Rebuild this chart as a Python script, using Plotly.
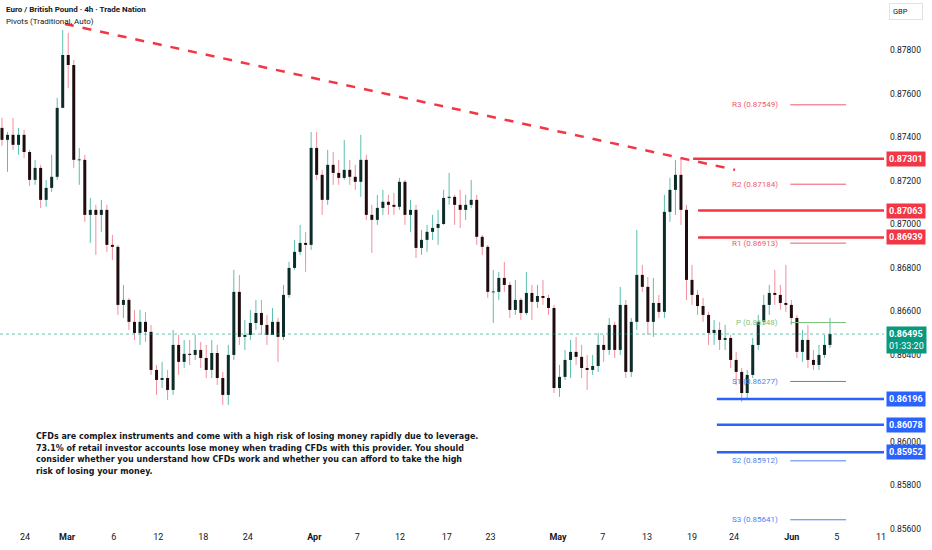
import plotly.graph_objects as go

# EUR/GBP candles (12h buckets), bar index on x
first_open = 0.87443
closes = [
    0.87388, 0.87411, 0.87365, 0.87411, 0.87332, 0.87204, 0.87259, 0.87112, 0.87167, 0.87218,
    0.87535, 0.87778, 0.87732, 0.87296, 0.87296, 0.87043, 0.87066, 0.87043, 0.87066, 0.86905,
    0.86896, 0.86629, 0.86652, 0.86551, 0.86500, 0.86551, 0.86505, 0.86330, 0.86284, 0.86293,
    0.86238, 0.86445, 0.86367, 0.86404, 0.86399, 0.86422, 0.86385, 0.86330, 0.86408, 0.86293,
    0.86215, 0.86399, 0.86689, 0.86482, 0.86491, 0.86546, 0.86592, 0.86537, 0.86491, 0.86551,
    0.86482, 0.86675, 0.86799, 0.86873, 0.86914, 0.86905, 0.87351, 0.87227, 0.87112, 0.87273,
    0.87236, 0.87213, 0.87250, 0.87218, 0.87195, 0.87296, 0.87043, 0.87020, 0.87075, 0.87103,
    0.87089, 0.87080, 0.87195, 0.87043, 0.87066, 0.86891, 0.86928, 0.86965, 0.86983, 0.87001,
    0.87121, 0.87126, 0.87089, 0.87066, 0.87089, 0.87112, 0.86942, 0.86896, 0.86689, 0.86689,
    0.86753, 0.86721, 0.86606, 0.86652, 0.86592, 0.86684, 0.86643, 0.86670, 0.86661, 0.86615,
    0.86247, 0.86298, 0.86376, 0.86413, 0.86390, 0.86339, 0.86330, 0.86348, 0.86445, 0.86422,
    0.86537, 0.86422, 0.86629, 0.86321, 0.86551, 0.86767, 0.86712, 0.86551, 0.86638, 0.86597,
    0.87057, 0.87158, 0.87227, 0.87066, 0.86744, 0.86675, 0.86624, 0.86583, 0.86500, 0.86514,
    0.86468, 0.86477, 0.86376, 0.86321, 0.86224, 0.86307, 0.86445, 0.86551, 0.86629, 0.86684,
    0.86675, 0.86638, 0.86629, 0.86569, 0.86413, 0.86468, 0.86376, 0.86353, 0.86399, 0.86445,
    0.86495,
]
highs = [
    0.87489, 0.87424, 0.87489, 0.87443, 0.87434, 0.87342, 0.87296, 0.87273, 0.87204, 0.87319,
    0.87581, 0.87893, 0.87880, 0.87755, 0.87351, 0.87319, 0.87121, 0.87089, 0.87112, 0.87089,
    0.86951, 0.86905, 0.86721, 0.86661, 0.86606, 0.86606, 0.86597, 0.86537, 0.86353, 0.86367,
    0.86330, 0.86514, 0.86491, 0.86468, 0.86468, 0.86491, 0.86459, 0.86445, 0.86468, 0.86445,
    0.86321, 0.86445, 0.86790, 0.86767, 0.86560, 0.86606, 0.86652, 0.86652, 0.86583, 0.86615,
    0.86569, 0.86721, 0.86827, 0.86928, 0.86997, 0.86965, 0.87424, 0.87424, 0.87250, 0.87342,
    0.87332, 0.87296, 0.87388, 0.87296, 0.87273, 0.87411, 0.87319, 0.87089, 0.87135, 0.87158,
    0.87135, 0.87144, 0.87213, 0.87204, 0.87112, 0.87089, 0.86974, 0.86997, 0.87043, 0.87066,
    0.87158, 0.87236, 0.87135, 0.87158, 0.87135, 0.87204, 0.87135, 0.86951, 0.86905, 0.86790,
    0.86781, 0.86827, 0.86735, 0.86744, 0.86661, 0.86781, 0.86721, 0.86721, 0.86744, 0.86675,
    0.86629, 0.86353, 0.86422, 0.86468, 0.86482, 0.86445, 0.86399, 0.86399, 0.86500, 0.86491,
    0.86569, 0.86551, 0.86712, 0.86652, 0.86569, 0.86974, 0.86813, 0.86758, 0.86753, 0.86675,
    0.87135, 0.87213, 0.87296, 0.87305, 0.87089, 0.86813, 0.86698, 0.86661, 0.86597, 0.86560,
    0.86551, 0.86537, 0.86491, 0.86413, 0.86339, 0.86330, 0.86477, 0.86583, 0.86675, 0.86721,
    0.86790, 0.86721, 0.86813, 0.86652, 0.86583, 0.86514, 0.86537, 0.86422, 0.86445, 0.86491,
    0.86569,
]
lows = [
    0.87360, 0.87241, 0.87342, 0.87319, 0.87305, 0.87176, 0.87181, 0.87075, 0.87080, 0.87149,
    0.87204, 0.87535, 0.87627, 0.87259, 0.87181, 0.87011, 0.86914, 0.86859, 0.86965, 0.86873,
    0.86836, 0.86583, 0.86569, 0.86514, 0.86468, 0.86445, 0.86459, 0.86307, 0.86215, 0.86247,
    0.86192, 0.86215, 0.86307, 0.86339, 0.86353, 0.86376, 0.86339, 0.86293, 0.86293, 0.86261,
    0.86169, 0.86169, 0.86376, 0.86445, 0.86422, 0.86468, 0.86514, 0.86491, 0.86445, 0.86491,
    0.86367, 0.86468, 0.86661, 0.86790, 0.86859, 0.86781, 0.86882, 0.87204, 0.87043, 0.87089,
    0.87181, 0.87181, 0.87204, 0.87181, 0.87158, 0.87126, 0.87020, 0.86868, 0.86997, 0.87043,
    0.87043, 0.87043, 0.87066, 0.86997, 0.86965, 0.86845, 0.86859, 0.86873, 0.86928, 0.86905,
    0.86997, 0.87089, 0.86997, 0.86983, 0.87020, 0.87075, 0.86905, 0.86859, 0.86661, 0.86546,
    0.86652, 0.86689, 0.86569, 0.86583, 0.86560, 0.86583, 0.86560, 0.86615, 0.86629, 0.86583,
    0.86224, 0.86206, 0.86284, 0.86293, 0.86353, 0.86293, 0.86238, 0.86307, 0.86321, 0.86367,
    0.86399, 0.86385, 0.86399, 0.86293, 0.86298, 0.86514, 0.86689, 0.86491, 0.86482, 0.86569,
    0.86569, 0.87011, 0.87043, 0.86997, 0.86652, 0.86629, 0.86583, 0.86551, 0.86445, 0.86445,
    0.86422, 0.86422, 0.86339, 0.86261, 0.86183, 0.86197, 0.86293, 0.86422, 0.86537, 0.86583,
    0.86629, 0.86606, 0.86597, 0.86537, 0.86385, 0.86367, 0.86339, 0.86330, 0.86330, 0.86385,
    0.86431,
]

# x-axis labels (bar index positions)
tick_pos = [4.17, 11.78, 20.24, 28.32, 36.47, 44.51, 56.58, 64.37, 72.10, 80.56,
            88.50, 100.72, 108.82, 116.85, 125.0, 132.61, 143.06, 151.21, 159.24]
tick_text = ["24", "<b>Mar</b>", "6", "12", "18", "24", "<b>Apr</b>", "7", "12", "17",
             "23", "<b>May</b>", "7", "13", "19", "24", "<b>Jun</b>", "5", "11"]
price_ticks = [0.856, 0.858, 0.860, 0.862, 0.864, 0.866, 0.868, 0.870, 0.872,
               0.874, 0.876, 0.878]

# drawn levels
red_levels = [0.87301, 0.87063, 0.86939]
red_start = [125.2, 126.1, 126.1]
blue_levels = [0.86196, 0.86078, 0.85952]
blue_start = [129.5, 129.5, 129.5]
trend_x = [11.4, 132.8]
trend_y = [0.87921, 0.87250]

# pivots (traditional)
pivot_names = ["R3", "R2", "R1", "P", "S1", "S2", "S3"]
pivot_vals = [0.87549, 0.87184, 0.86913, 0.86548, 0.86277, 0.85912, 0.85641]
pivot_cols = ["#f05a6e", "#f05a6e", "#f05a6e", "#7cc47f", "#4f7ff0", "#4f7ff0", "#4f7ff0"]

disclaimer = [
    "CFDs are complex instruments and come with a high risk of losing money rapidly due to leverage.",
    "73.1% of retail investor accounts lose money when trading CFDs with this provider. You should",
    "consider whether you understand how CFDs work and whether you can afford to take the high",
    "risk of losing your money.",
]
last_price = closes[-1]
countdown = "01:33:20"

X_MAX = 159.78
X_MIN = -0.36
Y_MIN, Y_MAX = 0.85594, 0.88031

opens = [first_open] + closes[:-1]

# build wick / body segments (None-separated)
wick = {True: ([], []), False: ([], [])}
body = {True: ([], []), False: ([], [])}
for i, (o, h, l, c) in enumerate(zip(opens, highs, lows, closes)):
    up = c >= o
    wick[up][0].extend([i, i, None])
    wick[up][1].extend([l, h, None])
    lo_b, hi_b = min(o, c), max(o, c)
    if hi_b - lo_b < 0.00004:
        mid = (hi_b + lo_b) / 2
        lo_b, hi_b = mid - 0.00002, mid + 0.00002
    body[up][0].extend([i, i, None])
    body[up][1].extend([lo_b, hi_b, None])

fig = go.Figure()

for up, col in [(True, "#5cbfae"), (False, "#f28f9c")]:
    fig.add_trace(go.Scatter(x=wick[up][0], y=wick[up][1], mode="lines",
                             line=dict(color=col, width=1),
                             hoverinfo="skip", showlegend=False))
for up, col in [(True, "#0d2b27"), (False, "#1e0c0f")]:
    fig.add_trace(go.Scatter(x=body[up][0], y=body[up][1], mode="lines",
                             line=dict(color=col, width=3),
                             hoverinfo="skip", showlegend=False))

# trendline
fig.add_trace(go.Scatter(x=trend_x, y=trend_y, mode="lines",
                         line=dict(color="#f23645", width=2.5, dash="dash"),
                         hoverinfo="skip", showlegend=False))

for lv, st in zip(red_levels, red_start):
    fig.add_trace(go.Scatter(x=[st, X_MAX], y=[lv, lv], mode="lines",
                             line=dict(color="#f23645", width=2.5),
                             hoverinfo="skip", showlegend=False))
    fig.add_annotation(x=1, xref="paper", y=lv, yref="y", text="<b>%.5f</b>" % lv,
                       showarrow=False, xanchor="left", xshift=2,
                       font=dict(family="Roboto", size=9, color="white"),
                       bgcolor="#f23645", borderpad=2)

for lv, st in zip(blue_levels, blue_start):
    fig.add_trace(go.Scatter(x=[st, X_MAX], y=[lv, lv], mode="lines",
                             line=dict(color="#2962ff", width=2.5),
                             hoverinfo="skip", showlegend=False))
    fig.add_annotation(x=1, xref="paper", y=lv, yref="y", text="<b>%.5f</b>" % lv,
                       showarrow=False, xanchor="left", xshift=2,
                       font=dict(family="Roboto", size=9, color="white"),
                       bgcolor="#2962ff", borderpad=2)

for name, v, col in zip(pivot_names, pivot_vals, pivot_cols):
    fig.add_trace(go.Scatter(x=[142.8, 152.9], y=[v, v], mode="lines",
                             line=dict(color=col, width=1),
                             hoverinfo="skip", showlegend=False))
    fig.add_annotation(x=141.0, y=v, text="%s (%.5f)" % (name, v), showarrow=False,
                       xanchor="right", font=dict(family="Roboto", size=8, color=col))

# last price dotted line + label
fig.add_shape(type="line", xref="paper", x0=0, x1=1, y0=last_price, y1=last_price,
              line=dict(color="rgba(8,153,129,0.6)", width=1, dash="dot"))
fig.add_annotation(x=1, xref="paper", y=last_price, yref="y", yanchor="top", yshift=8,
                   text="<b>%.5f</b><br>%s" % (last_price, countdown),
                   showarrow=False, xanchor="left", xshift=2, align="left",
                   font=dict(family="Roboto", size=9, color="white"),
                   bgcolor="#089981", borderpad=2)

# header
fig.add_annotation(x=0, xref="paper", y=1, yref="paper", xshift=4, yshift=-3,
                   text="<b>Euro / British Pound · 4h · Trade Nation</b>",
                   showarrow=False, xanchor="left", yanchor="top",
                   font=dict(family="Roboto", size=8, color="#131722"))
fig.add_annotation(x=0, xref="paper", y=1, yref="paper", xshift=4, yshift=-15,
                   text="Pivots (Traditional, Auto)",
                   showarrow=False, xanchor="left", yanchor="top",
                   font=dict(family="Roboto", size=8, color="#131722"))
fig.add_annotation(x=1, xref="paper", y=1, yref="paper", xshift=5, yshift=-3,
                   text="GBP&nbsp;&nbsp;&nbsp;&nbsp;&nbsp;&nbsp;", showarrow=False,
                   xanchor="left", yanchor="top", align="left",
                   font=dict(family="Roboto", size=7.5, color="#131722"),
                   bgcolor="white", bordercolor="#e0e3eb", borderwidth=1, borderpad=3)

fig.add_annotation(x=0, xref="paper", y=1, yref="paper", xshift=34, yshift=-429,
                   text="<b>" + "<br>".join(disclaimer) + "</b>", showarrow=False,
                   xanchor="left", yanchor="top", align="left",
                   font=dict(family="DejaVu Sans Condensed, DejaVu Sans", size=8.9,
                             color="#131722"))

fig.update_layout(
    width=932, height=550,
    margin=dict(l=0, r=48, t=0, b=20),
    paper_bgcolor="white", plot_bgcolor="white",
    showlegend=False,
    xaxis=dict(range=[X_MIN, X_MAX], tickvals=tick_pos, ticktext=tick_text,
               showgrid=False, zeroline=False, showline=False, ticks="",
               fixedrange=True,
               tickfont=dict(family="Roboto", size=9, color="#131722")),
    yaxis=dict(range=[Y_MIN, Y_MAX], side="right", tickvals=price_ticks,
               tickformat=".5f", showgrid=False, zeroline=False, showline=False,
               ticks="", ticklabelstandoff=5,
               tickfont=dict(family="Roboto", size=8.5, color="#131722")),
)

fig.write_html("out.html", config={"displayModeBar": False},
               post_script="document.body.style.margin='0';document.body.style.overflow='hidden';")
